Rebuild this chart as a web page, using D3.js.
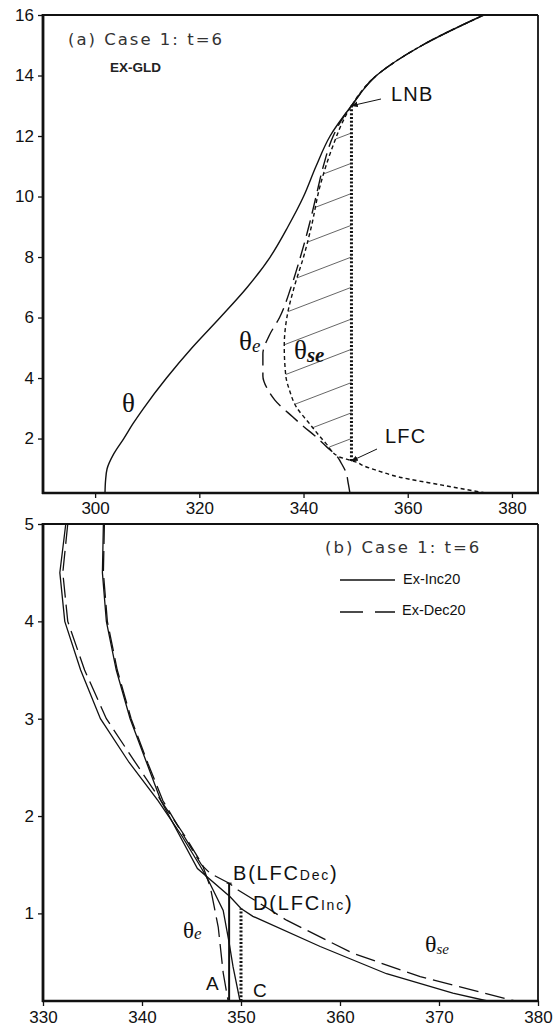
<!DOCTYPE html>
<html>
<head>
<meta charset="utf-8">
<script src="https://cdn.jsdelivr.net/npm/d3@7"></script>
<style>
  html, body { margin: 0; padding: 0; background: #fff; }
  svg text { fill: #111; }
</style>
</head>
<body>
<script>
// ---------- Panel (a): EX-GLD sounding, heights in km, temperatures in K ----------
const aXTicks = [300, 320, 340, 360, 380];
const aYTicks = [2, 4, 6, 8, 10, 12, 14, 16];

// potential temperature θ  [height, value]
const aTheta = [[0.2,301.9],[0.6,302.0],[1.0,302.3],[1.5,303.6],[2.0,305.5],[2.5,307.3],[3.0,309.3],
  [4.0,313.7],[5.0,318.6],[6.0,324.0],[7.0,329.2],[8.0,333.6],[9.0,337.0],[10.0,340.0],
  [11.0,342.4],[12.0,345.1],[13.0,349.2],[14.0,354.0],[15.0,362.8],[16.0,374.6]];

// equivalent potential temperature θe
const aThetaE = [[0.2,348.9],[0.5,348.6],[0.9,348.1],[1.2,347.2],[1.4,346.5],[1.7,344.6],[2.06,342.4],
  [2.4,340.0],[2.72,337.9],[3.27,334.5],[3.6,333.2],[4.07,332.2],[4.8,332.2],[5.4,333.4],[6.0,335.4],
  [7.0,337.6],[8.0,339.4],[9.0,341.0],[10.0,342.4],[11.0,343.8],[12.0,345.7],[12.5,347.2],[13.0,349.2],
  [14.0,354.0],[15.0,362.8],[16.0,374.6]];

// saturated equivalent potential temperature θse
const aThetaSE = [[0.2,374.9],[0.46,366.6],[0.73,358.3],[0.95,354.0],[1.1,351.5],[1.23,350.0],[1.29,348.8],
  [1.4,346.8],[1.84,344.3],[2.5,341.1],[3.05,338.6],[3.6,337.3],[4.07,336.6],[5.06,336.3],[6.0,336.8],
  [7.0,338.2],[8.0,340.0],[9.0,341.5],[10.3,343.1],[11.7,345.7],[12.5,347.6],[13.0,349.2],[14.0,354.0],
  [15.0,362.8],[16.0,374.6]];

const aParcelTheta = 349.2;   // θe of the lifted parcel
const aLFC = 1.26;            // level of free convection (km)
const aLNB = 13.0;            // level of neutral buoyancy (km)
const aHatchTops = [12.1, 11.1, 10.1, 9.05, 8.0, 7.0, 5.95, 4.95, 3.85, 2.85, 2.0];
const aHatchSlope = 0.066;    // km per K

// ---------- Panel (b): Ex-Inc20 vs Ex-Dec20, lowest 5 km ----------
const bXTicks = [330, 340, 350, 360, 370, 380];
const bYTicks = [1, 2, 3, 4, 5];

const bIncThetaE = [[5,332.3],[4.5,331.7],[4,332.2],[3.5,333.8],[3,335.8],[2.55,338.7],[2.16,341.6],
  [1.8,344.0],[1.5,345.8],[1.34,346.7],[1.03,348.2],[0.7,348.8],[0.45,349.2],[0.1,349.9]];
const bDecThetaE = [[5,332.5],[4.5,332.0],[4,332.5],[3.5,334.2],[3,336.4],[2.6,339.0],[2.16,341.9],
  [1.8,344.3],[1.5,346.1],[1.27,346.9],[0.86,347.7],[0.39,348.2],[0.1,348.7]];
const bIncThetaSE = [[5,336.1],[4.5,336.0],[4,336.4],[3.5,337.4],[3,338.8],[2.54,340.5],[2.16,341.9],
  [1.46,345.6],[1.17,348.9],[1.05,350.0],[0.97,351.2],[0.66,358.0],[0.38,364.7],[0.18,371.4],[0.1,374.9]];
const bDecThetaSE = [[5,336.2],[4.5,336.1],[4,336.5],[3.5,337.5],[3,338.9],[2.54,340.6],[2.16,342.1],
  [1.8,344.2],[1.5,346.0],[1.41,346.9],[1.31,348.8],[1.24,349.7],[1.04,352.9],[0.93,354.6],[0.59,361.3],
  [0.35,368.1],[0.1,377.7]];

const bLfcDec = [348.8, 1.31];   // point B
const bLfcInc = [350.0, 1.05];   // point D
const bLegend = ["Ex-Inc20", "Ex-Dec20"];

// ---------------------------------------------------------------------------
const W = 559, H = 1026;
const svg = d3.select("body").append("svg").attr("width", W).attr("height", H)
  .style("font-family", "'Liberation Sans', Arial, sans-serif");

svg.append("defs").append("marker")
  .attr("id", "arrowHead").attr("viewBox", "0 0 10 10")
  .attr("refX", 9).attr("refY", 5).attr("markerWidth", 7).attr("markerHeight", 7)
  .attr("orient", "auto")
  .append("path").attr("d", "M0,1 L10,5 L0,9 Z").attr("fill", "#111");

const left = 43, right = 538;

function drawFrame(g, x, y, xTicks, yTicks, labelGap) {
  const [y0, y1] = y.range();   // bottom, top
  const ax = g.append("g").attr("transform", `translate(0,${y0})`)
    .call(d3.axisBottom(x).tickValues(xTicks).tickSize(5).tickPadding(labelGap).tickFormat(d3.format("d")));
  const ay = g.append("g").attr("transform", `translate(${left},0)`)
    .call(d3.axisLeft(y).tickValues(yTicks).tickSize(5).tickPadding(4).tickFormat(d3.format("d")));
  [ax, ay].forEach(a => {
    a.select(".domain").remove();
    a.selectAll(".tick line").attr("stroke", "#111").attr("stroke-width", 1.3);
    a.selectAll(".tick text").attr("fill", "#111").style("font-size", "17px")
      .style("font-family", "'Liberation Sans', Arial, sans-serif");
  });
  // box
  g.append("line").attr("x1", left).attr("x2", right).attr("y1", y1).attr("y2", y1)
    .attr("stroke", "#111").attr("stroke-width", 1.8);
  g.append("line").attr("x1", right).attr("x2", right).attr("y1", y1).attr("y2", y0)
    .attr("stroke", "#111").attr("stroke-width", 1.8);
  g.append("line").attr("x1", left - 1).attr("x2", right + 1).attr("y1", y0).attr("y2", y0)
    .attr("stroke", "#111").attr("stroke-width", 2.6);
  g.append("line").attr("x1", left).attr("x2", left).attr("y1", y1 - 1).attr("y2", y0 + 1)
    .attr("stroke", "#111").attr("stroke-width", 2.8);
}

function thetaLabel(g, xPos, yPos, size, sub, subSize, subShift, subBold) {
  const t = g.append("text").attr("x", xPos).attr("y", yPos)
    .style("font-family", "'Liberation Serif', 'Times New Roman', serif").style("font-size", size + "px");
  t.append("tspan").text("θ");
  if (sub) {
    t.append("tspan").attr("dy", subShift).style("font-size", subSize + "px")
      .style("font-style", "italic").style("font-weight", subBold ? "bold" : "normal").text(sub);
  }
}

// ============================== Panel (a) ==============================
{
  const x = d3.scaleLinear().domain([290, 385]).range([left, right]);
  const y = d3.scaleLinear().domain([0.2, 16]).range([493, 15]);
  const g = svg.append("g");

  const line = d3.line().x(d => x(d[1])).y(d => y(d[0])).curve(d3.curveMonotoneY);

  // hatching between θse and the parcel line, from LFC to LNB
  const upper = aThetaSE.filter(d => d[0] >= 1.29 && d[0] <= aLNB);
  aHatchTops.forEach(h => {
    let best = null;
    for (let i = 0; i < upper.length - 1; i++) {
      const [z1, v1] = upper[i], [z2, v2] = upper[i + 1];
      const f1 = z1 - (h - aHatchSlope * (aParcelTheta - v1));
      const f2 = z2 - (h - aHatchSlope * (aParcelTheta - v2));
      if (f1 === 0 || f1 * f2 < 0) {
        const t = f1 / (f1 - f2);
        const v = v1 + t * (v2 - v1), z = z1 + t * (z2 - z1);
        if (!best || v > best[1]) best = [z, v];
      }
    }
    if (best) {
      g.append("line")
        .attr("x1", x(best[1])).attr("y1", y(best[0]))
        .attr("x2", x(aParcelTheta)).attr("y2", y(h))
        .attr("stroke", "#555").attr("stroke-width", 0.9);
    }
  });

  g.append("path").datum(aTheta).attr("d", line)
    .attr("fill", "none").attr("stroke", "#111").attr("stroke-width", 1.4);
  g.append("path").datum(aThetaE).attr("d", line)
    .attr("fill", "none").attr("stroke", "#111").attr("stroke-width", 1.4)
    .attr("stroke-dasharray", "16,7");
  g.append("path").datum(aThetaSE).attr("d", line)
    .attr("fill", "none").attr("stroke", "#111").attr("stroke-width", 1.4)
    .attr("stroke-dasharray", "4,3");

  // parcel ascent from LFC to LNB
  g.append("line").attr("x1", x(aParcelTheta)).attr("x2", x(aParcelTheta))
    .attr("y1", y(aLFC)).attr("y2", y(aLNB))
    .attr("stroke", "#111").attr("stroke-width", 3).attr("stroke-dasharray", "2,1.8");

  drawFrame(g, x, y, aXTicks, aYTicks, 4);

  // arrows + labels
  g.append("line").attr("x1", 381).attr("y1", 99).attr("x2", x(aParcelTheta)).attr("y2", y(aLNB))
    .attr("stroke", "#111").attr("stroke-width", 1).attr("marker-end", "url(#arrowHead)");
  g.append("text").attr("x", 391).attr("y", 101).style("font-size", "20px")
    .style("letter-spacing", "1.2px").text("LNB");
  g.append("line").attr("x1", 377).attr("y1", 449).attr("x2", x(aParcelTheta)).attr("y2", y(aLFC))
    .attr("stroke", "#111").attr("stroke-width", 1).attr("marker-end", "url(#arrowHead)");
  g.append("text").attr("x", 385).attr("y", 443).style("font-size", "20px")
    .style("letter-spacing", "1.2px").text("LFC");

  g.append("text").attr("x", 68).attr("y", 45)
    .style("font-family", "'DejaVu Sans', sans-serif").style("font-size", "16.5px")
    .style("letter-spacing", "2px").style("fill", "#333").text("(a) Case 1: t=6");
  g.append("text").attr("x", 110).attr("y", 72).style("font-size", "13.5px")
    .style("font-weight", "bold").style("fill", "#222").text("EX-GLD");

  thetaLabel(g, 122, 412, 27);
  thetaLabel(g, 239, 350, 27, "e", 19, 2);
  thetaLabel(g, 294, 359, 27, "se", 21, 3, true);
}

// ============================== Panel (b) ==============================
{
  const x = d3.scaleLinear().domain([330, 380]).range([left, right]);
  const y = d3.scaleLinear().domain([0.1, 5]).range([1001, 524]);
  const g = svg.append("g");
  const line = d3.line().x(d => x(d[1])).y(d => y(d[0]));

  const solid = { "stroke": "#111", "stroke-width": 1.3, "fill": "none" };
  const dashed = { "stroke": "#111", "stroke-width": 1.3, "fill": "none", "stroke-dasharray": "20,7" };
  function draw(data, style) {
    const p = g.append("path").datum(data).attr("d", line);
    Object.entries(style).forEach(([k, v]) => p.attr(k, v));
  }
  draw(bIncThetaE, solid);
  draw(bIncThetaSE, solid);
  draw(bDecThetaE, dashed);
  draw(bDecThetaSE, dashed);

  // B: LFC of Ex-Dec20
  g.append("line").attr("x1", x(bLfcDec[0])).attr("x2", x(bLfcDec[0]))
    .attr("y1", y(0.1)).attr("y2", y(bLfcDec[1])).attr("stroke", "#111").attr("stroke-width", 2);
  g.append("line").attr("x1", x(bLfcDec[0]) - 2.5).attr("x2", x(bLfcDec[0]) + 2.5)
    .attr("y1", y(bLfcDec[1])).attr("y2", y(bLfcDec[1])).attr("stroke", "#111").attr("stroke-width", 1.2);
  // D: LFC of Ex-Inc20
  g.append("line").attr("x1", x(bLfcInc[0])).attr("x2", x(bLfcInc[0]))
    .attr("y1", y(0.1)).attr("y2", y(bLfcInc[1])).attr("stroke", "#111").attr("stroke-width", 3)
    .attr("stroke-dasharray", "2,1.8");

  drawFrame(g, x, y, bXTicks, bYTicks, 5);

  g.append("text").attr("x", 325).attr("y", 553)
    .style("font-family", "'DejaVu Sans', sans-serif").style("font-size", "16.5px")
    .style("letter-spacing", "2px").style("fill", "#333").text("(b) Case 1: t=6");

  // legend
  g.append("line").attr("x1", 340).attr("x2", 395).attr("y1", 580).attr("y2", 580)
    .attr("stroke", "#111").attr("stroke-width", 1.3);
  g.append("line").attr("x1", 340).attr("x2", 395).attr("y1", 612).attr("y2", 612)
    .attr("stroke", "#111").attr("stroke-width", 1.3).attr("stroke-dasharray", "23,12");
  g.append("text").attr("x", 403).attr("y", 584).style("font-size", "14.5px").text(bLegend[0]);
  g.append("text").attr("x", 402).attr("y", 615).style("font-size", "14.5px").text(bLegend[1]);

  // point labels
  const b = g.append("text").attr("x", 233).attr("y", 880).style("font-size", "20px").style("letter-spacing", "1.8px");
  b.append("tspan").text("B(LFC");
  b.append("tspan").style("font-size", "14px").text("Dec");
  b.append("tspan").text(")");
  const d = g.append("text").attr("x", 253).attr("y", 910).style("font-size", "20px").style("letter-spacing", "1.8px");
  d.append("tspan").text("D(LFC");
  d.append("tspan").style("font-size", "14px").text("Inc");
  d.append("tspan").text(")");
  g.append("text").attr("x", 206).attr("y", 990).style("font-size", "19px").text("A");
  g.append("text").attr("x", 253).attr("y", 997).style("font-size", "19px").text("C");

  thetaLabel(g, 183, 938, 23, "e", 17, 1);
  thetaLabel(g, 425, 952, 24, "se", 15, 2);
}
</script>
</body>
</html>
